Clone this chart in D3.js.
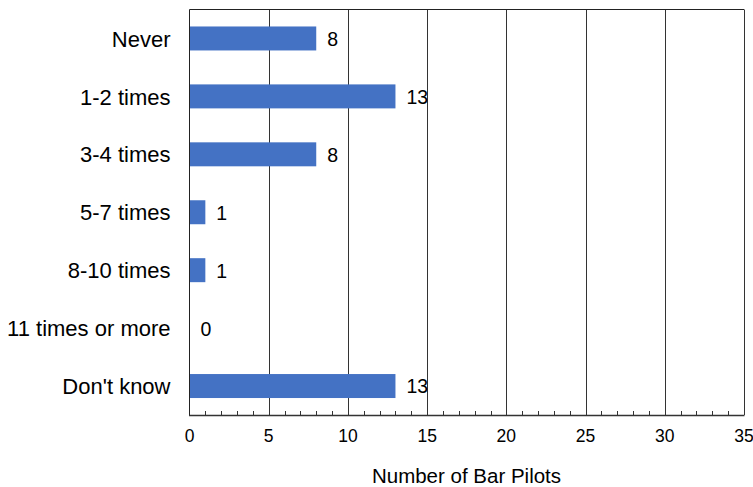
<!DOCTYPE html>
<html><head><meta charset="utf-8">
<script src="https://cdn.jsdelivr.net/npm/d3@7"></script>
<style>body{margin:0;background:#fff}svg{display:block}text{font-family:"Liberation Sans",Arial,sans-serif;fill:#000}</style>
</head><body>
<svg id="c" width="753" height="487"></svg>
<script>
const categories = ["Never","1-2 times","3-4 times","5-7 times","8-10 times","11 times or more","Don't know"];
const values = [8,13,8,1,1,0,13];
const majorTicks = [0,5,10,15,20,25,30,35];
const axisTitle = "Number of Bar Pilots";

const svg = d3.select("#c");
const L = 189.5, R = 744, T = 9.5, B = 415;
const x = d3.scaleLinear().domain([0,35]).range([L,R]);
const y = d3.scaleBand().domain(categories).range([T,B]).paddingInner(0.586).paddingOuter(0.293);

// gridlines
svg.append("g").selectAll("line").data(majorTicks.filter(d=>d>0)).join("line")
  .attr("x1",d=>Math.round(x(d))+0.5).attr("x2",d=>Math.round(x(d))+0.5)
  .attr("y1",T).attr("y2",B).attr("stroke","#333").attr("stroke-width",1);

// frame top & left
svg.append("line").attr("x1",L).attr("x2",R).attr("y1",T).attr("y2",T).attr("stroke","#222");
svg.append("line").attr("x1",L).attr("x2",L).attr("y1",T).attr("y2",B).attr("stroke","#222");

// bars
svg.append("g").selectAll("rect").data(values).join("rect")
  .attr("x",x(0)+0.5).attr("y",(d,i)=>y(categories[i]))
  .attr("width",d=>Math.max(0,x(d)-x(0)-0.5)).attr("height",y.bandwidth())
  .attr("fill","#4472C4");

// value labels
svg.append("g").selectAll("text").data(values).join("text")
  .attr("x",d=>x(d)+11).attr("y",(d,i)=>y(categories[i])+y.bandwidth()/2)
  .attr("dy","0.38em").attr("font-size",19.5).text(d=>d);

// category labels
svg.append("g").selectAll("text").data(categories).join("text")
  .attr("x",170.5).attr("y",d=>y(d)+y.bandwidth()/2).attr("dy","0.37em")
  .attr("text-anchor","end").attr("font-size",22).text(d=>d);

// x axis
const minor = d3.range(0,35.01,1).filter(d=>d%5!==0);
svg.append("g").selectAll("line").data(minor).join("line")
  .attr("x1",d=>Math.round(x(d))+0.5).attr("x2",d=>Math.round(x(d))+0.5)
  .attr("y1",B-4).attr("y2",B).attr("stroke","#333");
svg.append("line").attr("x1",L-0.5).attr("x2",R+0.5).attr("y1",B+0.5).attr("y2",B+0.5).attr("stroke","#333").attr("stroke-width",1.5);
svg.append("g").selectAll("text").data(majorTicks).join("text")
  .attr("x",d=>x(d)).attr("y",442).attr("text-anchor","middle").attr("font-size",17.5).text(d=>d);

svg.append("text").attr("x",466.5).attr("y",482.5).attr("text-anchor","middle").attr("font-size",20.5).text(axisTitle);
</script>
</body></html>
